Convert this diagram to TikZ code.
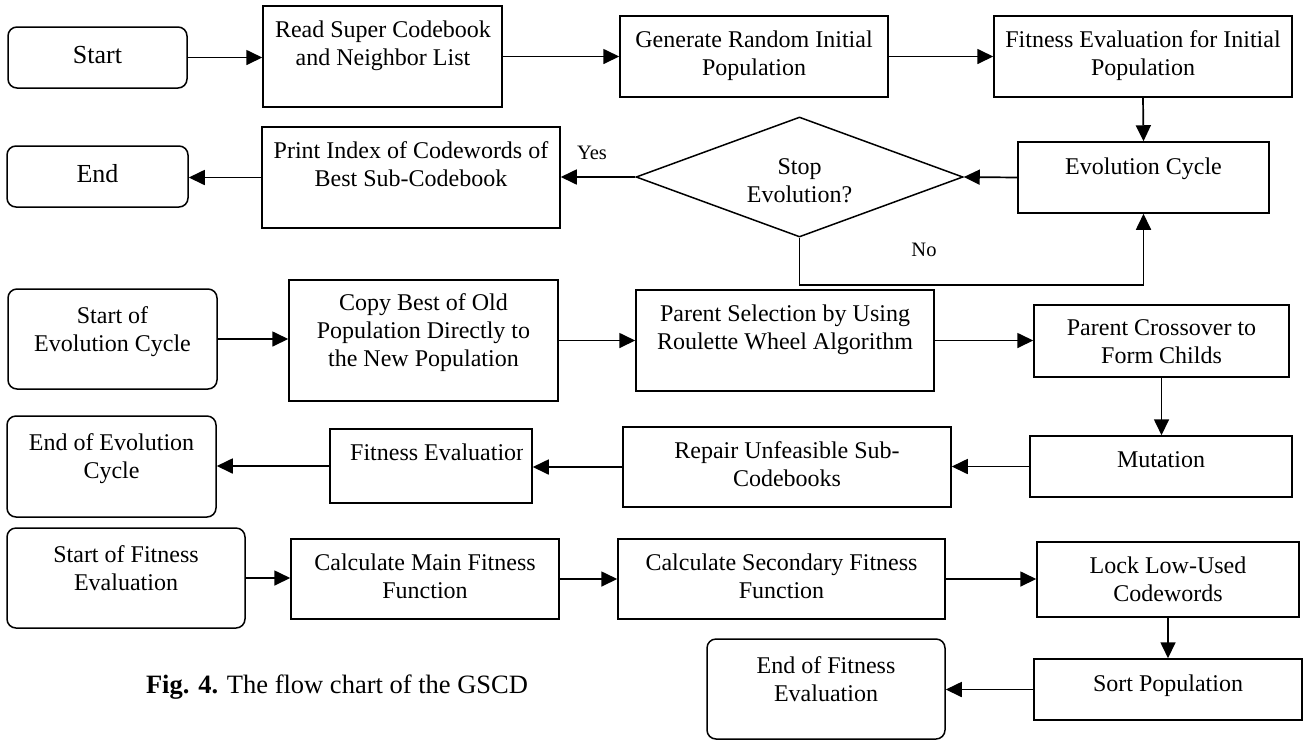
\documentclass[tikz,border=0pt]{standalone}
\usepackage{fontspec}
\setmainfont{Liberation Serif}
\usetikzlibrary{arrows.meta,shapes.geometric}
\newcommand\mainsz{\fontsize{24}{28}\selectfont}
\newcommand\termsz{\fontsize{26}{28}\selectfont}
\newcommand\labsz{\fontsize{20.5}{24}\selectfont}
\newcommand\capsz{\fontsize{26.5}{30}\selectfont}
\begin{document}
\begin{tikzpicture}[x=1pt,y=-1pt,
  proc/.style={draw, rectangle, line width=1.5pt, inner sep=0pt},
  term/.style={draw, rectangle, rounded corners=9pt, line width=1.5pt, inner sep=0pt},
  txt/.style={align=center, inner sep=0pt, font=\mainsz},
  ttxt/.style={align=center, inner sep=0pt, font=\termsz},
  lab/.style={inner sep=0pt, font=\labsz},
  arr/.style={line width=1.7pt, -{Triangle[length=16pt,width=15pt]}}]
\fill[white] (0,0) rectangle (1305,740);
\useasboundingbox (0,0) rectangle (1305,740);

% boxes
\node[term, minimum width=179pt, minimum height=61pt] (start) at (97.5,57.5) {};
\node[proc, minimum width=239pt, minimum height=101pt] (read) at (382.5,56.5) {};
\node[proc, minimum width=268pt, minimum height=81pt] (gen) at (754,56.5) {};
\node[proc, minimum width=298pt, minimum height=81pt] (fitinit) at (1143,56.5) {};
\node[proc, minimum width=251pt, minimum height=71pt] (evol) at (1143.5,177.5) {};
\node[draw, diamond, aspect=2.725, minimum width=327pt, minimum height=120pt, inner sep=0pt, line width=1.5pt] (dia) at (799.5,177) {};
\node[proc, minimum width=298pt, minimum height=101pt] (print) at (411,177.5) {};
\node[term, minimum width=181pt, minimum height=61pt] (end) at (97.5,176.5) {};
\node[term, minimum width=209pt, minimum height=100pt] (startevo) at (112.5,339) {};
\node[proc, minimum width=269pt, minimum height=121pt] (copy) at (423.5,340.5) {};
\node[proc, minimum width=298pt, minimum height=101pt] (parent) at (785,340.5) {};
\node[proc, minimum width=255pt, minimum height=72pt] (cross) at (1161.5,341) {};
\node[proc, minimum width=262pt, minimum height=61pt] (mut) at (1161,466.5) {};
\node[proc, minimum width=328pt, minimum height=80pt] (repair) at (787,467) {};
\node[proc, minimum width=202pt, minimum height=74pt] (fiteval) at (431,466) {};
\node[term, minimum width=209pt, minimum height=101pt] (endevo) at (111.5,466.5) {};
\node[term, minimum width=238pt, minimum height=100pt] (startfit) at (126,578) {};
\node[proc, minimum width=268pt, minimum height=80pt] (calcmain) at (425,579) {};
\node[proc, minimum width=327pt, minimum height=80pt] (calcsec) at (781.5,579) {};
\node[proc, minimum width=262pt, minimum height=75pt] (lock) at (1168,579.5) {};
\node[proc, minimum width=268pt, minimum height=61pt] (sort) at (1168,689.5) {};
\node[term, minimum width=238pt, minimum height=100pt] (endfit) at (826,689) {};

% texts
\node[ttxt] (startT) at (97.5,55) {Start};
\node[txt] (readT) at (383,45.5) {Read Super Codebook\\and Neighbor List};
\node[txt] (genT) at (754,56) {Generate Random Initial\\Population};
\node[txt] (fitinitT) at (1143,55.5) {Fitness Evaluation for Initial\\Population};
\node[txt] (evolT) at (1143.5,168.5) {Evolution Cycle};
\node[txt] (diaT) at (799.5,181) {Stop\\Evolution?};
\node[txt] (printT) at (411,164.5) {Print Index of Codewords of\\Best Sub-Codebook};
\node[ttxt] (endT) at (97.5,173.5) {End};
\node[txt] (startevoT) at (112.5,331.5) {Start of\\Evolution Cycle};
\node[txt] (copyT) at (423.5,333) {Copy Best of Old\\Population Directly to\\the New Population};
\node[txt] (parentT) at (785,329.5) {Parent Selection by Using\\Roulette Wheel Algorithm};
\node[txt] (crossT) at (1161.5,342) {Parent Crossover to\\Form Childs};
\node[txt] (mutT) at (1161,460) {Mutation};
\node[txt] (repairT) at (787,464) {Repair Unfeasible Sub-\\Codebooks};
\begin{scope}
\clip (330,429) rectangle (522,503);
\node[txt, anchor=west] (fitevalT) at (350,452) {Fitness Evaluation};
\end{scope}
\node[txt] (endevoT) at (111.5,458.5) {End of Evolution\\Cycle};
\node[txt] (startfitT) at (126,568) {Start of Fitness\\Evaluation};
\node[txt] (calcmainT) at (425,576) {Calculate Main Fitness\\Function};
\node[txt] (calcsecT) at (781.5,576) {Calculate Secondary Fitness\\Function};
\node[txt] (lockT) at (1168,579) {Lock Low-Used\\Codewords};
\node[txt] (sortT) at (1168,685.5) {Sort Population};
\node[txt] (endfitT) at (826,679) {End of Fitness\\Evaluation};
\node[inner sep=0pt, font=\capsz] (caption) at (337,687) {\textbf{Fig. 4.} The flow chart of the GSCD};

% labels
\node[lab] (yes) at (592,153) {Yes};
\node[lab] (no) at (924,250) {No};

% connectors
\draw[arr] (start.east) -- (start.east -| read.west);
\draw[arr] (read.east) -- (read.east -| gen.west);
\draw[arr] (gen.east) -- (gen.east -| fitinit.west);
\draw[arr] (fitinit.south) -- (evol.north);
\draw[arr] (evol.west) -- (dia.east);
\draw[arr] (dia.west) -- (dia.west -| print.east);
\draw[arr] (print.west) -- (print.west -| end.east);
\coordinate (nocorner) at (799.5,285);
\draw[arr] (dia.south) -- (nocorner) -| (evol.south);
\draw[arr] (startevo.east) -- (startevo.east -| copy.west);
\draw[arr] (copy.east) -- (copy.east -| parent.west);
\draw[arr] (parent.east) -- (parent.east -| cross.west);
\draw[arr] (cross.south) -- (cross.south |- mut.north);
\draw[arr] (mut.west) -- (mut.west -| repair.east);
\draw[arr] (repair.west) -- (repair.west -| fiteval.east);
\draw[arr] (fiteval.west) -- (fiteval.west -| endevo.east);
\draw[arr] (startfit.east) -- (startfit.east -| calcmain.west);
\draw[arr] (calcmain.east) -- (calcmain.east -| calcsec.west);
\draw[arr] (calcsec.east) -- (calcsec.east -| lock.west);
\draw[arr] (lock.south) -- (sort.north);
\draw[arr] (sort.west) -- (sort.west -| endfit.east);
\end{tikzpicture}
\end{document}
